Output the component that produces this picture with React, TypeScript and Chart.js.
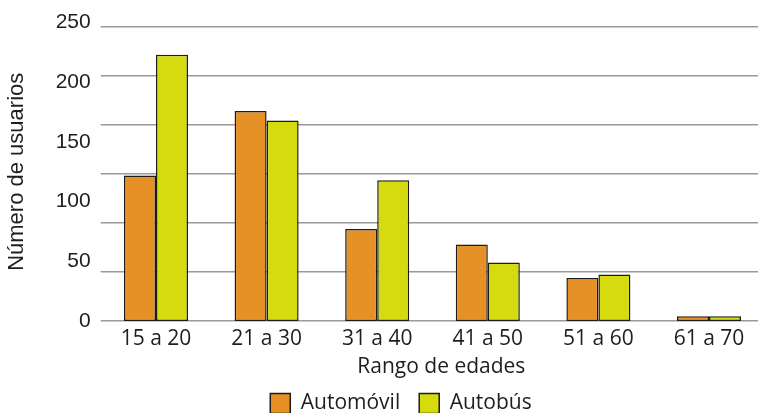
import React, { useEffect, useRef } from "react";
import { Chart, registerables } from "chart.js";

Chart.register(...registerables);

const CATEGORIES = ["15 a 20", "21 a 30", "31 a 40", "41 a 50", "51 a 60", "61 a 70"];
const AUTOMOVIL = [122, 176, 77, 64, 36, 4];
const AUTOBUS = [223, 168, 118, 49, 39, 4];
const Y_TICK_STEP = 50;
const Y_MAX = 250;
const GRID_VALUES = [0, 41.1, 82.2, 123.3, 164.4, 205.5, 246.6];
const SERIES_NAMES = ["Automóvil", "Autobús"];

const ORANGE = "#E59126";
const GREEN = "#D6DB10";
const BORDER = "#1c1c1c";
const TEXT = "#1e1e1e";
const SANS = "'Open Sans', 'Noto Sans', sans-serif";
const ARIAL = "'Liberation Sans', Arial, sans-serif";

const CANVAS_W = 782;
const CANVAS_H = 413;
const LEGEND_SHIFT = 10;

const legendShift = {
  id: "legendShift",
  afterLayout(chart: any) {
    if (chart.legend) {
      chart.legend.left += LEGEND_SHIFT;
      chart.legend.right += LEGEND_SHIFT;
    }
  },
};

export default function App() {
  const ref = useRef<HTMLCanvasElement | null>(null);

  useEffect(() => {
    if (!ref.current) return;
    const chart = new Chart(ref.current, {
      type: "bar",
      data: {
        datasets: [
          {
            label: SERIES_NAMES[0],
            data: AUTOMOVIL.map((v, i) => ({ x: i, y: v })),
            backgroundColor: ORANGE,
            borderColor: BORDER,
            borderWidth: 1.5,
            borderSkipped: false,
            yAxisID: "y",
          },
          {
            label: SERIES_NAMES[1],
            data: AUTOBUS.map((v, i) => ({ x: i, y: v })),
            backgroundColor: GREEN,
            borderColor: BORDER,
            borderWidth: 1.5,
            borderSkipped: false,
            yAxisID: "y",
          },
        ],
      },
      options: {
        responsive: false,
        animation: false,
        devicePixelRatio: 1,
        layout: { padding: { top: 21, left: 0, right: 0, bottom: -11 } },
        datasets: { bar: { categoryPercentage: 0.579, barPercentage: 1 } },
        scales: {
          x: {
            type: "linear",
            offset: false,
            min: -0.5,
            max: 5.66,
            grid: { display: false, drawTicks: false },
            border: { display: false },
            afterBuildTicks: (scale: any) => {
              scale.ticks = CATEGORIES.map((_, i) => ({ value: i }));
            },
            ticks: {
              autoSkip: false,
              maxRotation: 0,
              padding: 5,
              color: TEXT,
              font: { family: SANS, size: 21 },
              callback: (value: any) => CATEGORIES[Math.round(Number(value))] ?? "",
            },
            title: {
              display: true,
              text: "Rango de edades",
              color: TEXT,
              font: { family: SANS, size: 21, lineHeight: 1 },
              padding: { top: 0, bottom: -4 },
            },
            afterFit: (scale: any) => {
              scale.height = 53;
            },
          },
          y: {
            position: "left",
            min: 0,
            max: Y_MAX,
            grid: { display: false, drawTicks: false },
            border: { display: false },
            ticks: {
              stepSize: Y_TICK_STEP,
              padding: 10,
              color: TEXT,
              font: { family: ARIAL, size: 21 },
            },
            title: {
              display: true,
              text: "Número de usuarios",
              color: TEXT,
              font: { family: ARIAL, size: 22 },
              padding: { top: 4, bottom: 0 },
            },
            afterFit: (scale: any) => {
              scale.width = 100.7;
            },
          },
          yGrid: {
            position: "right",
            min: 0,
            max: Y_MAX,
            grid: { color: "#9a9a9a", lineWidth: 1.5, drawTicks: false },
            border: { display: false },
            ticks: { display: false },
            afterBuildTicks: (scale: any) => {
              scale.ticks = GRID_VALUES.map((v) => ({ value: v }));
            },
            afterFit: (scale: any) => {
              scale.width = 0;
            },
          },
        },
        plugins: {
          tooltip: { enabled: false },
          legend: {
            position: "bottom",
            labels: {
              boxWidth: 20,
              boxHeight: 20,
              padding: 19,
              color: TEXT,
              font: { family: SANS, size: 21 },
            },
          },
        },
      },
      plugins: [legendShift],
    } as any);
    return () => chart.destroy();
  }, []);

  return (
    <div
      style={{
        position: "fixed",
        left: 0,
        top: 0,
        width: 758,
        height: 413,
        overflow: "hidden",
        background: "#fff",
      }}
    >
      <canvas
        ref={ref}
        width={CANVAS_W}
        height={CANVAS_H}
        style={{ width: CANVAS_W, height: CANVAS_H, display: "block" }}
      />
    </div>
  );
}
